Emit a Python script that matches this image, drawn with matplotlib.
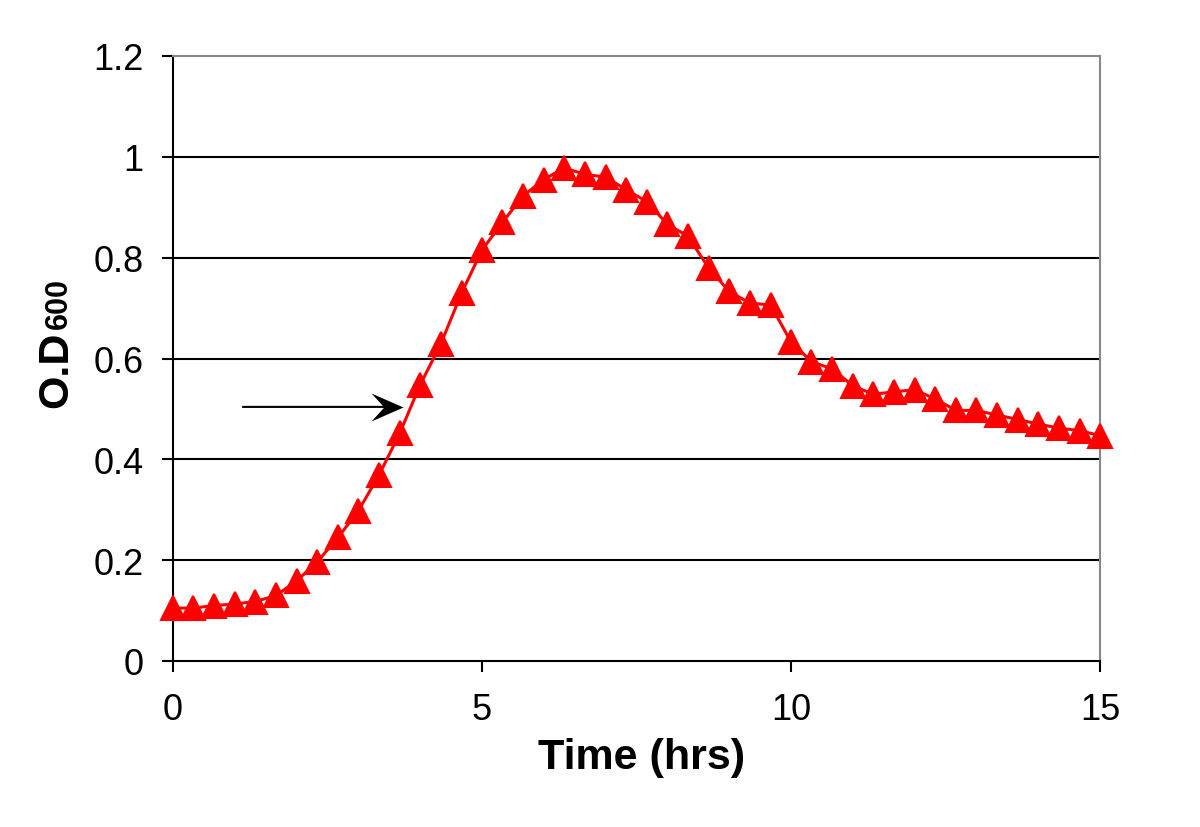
import matplotlib
matplotlib.use("Agg")
import matplotlib.pyplot as plt
from matplotlib.ticker import FuncFormatter
from matplotlib.path import Path

plt.rcParams['font.family'] = ['Liberation Sans', 'DejaVu Sans']

time_hrs = [0.00, 0.33, 0.67, 1.00, 1.33, 1.67, 2.00, 2.33, 2.67, 3.00,
            3.33, 3.67, 4.00, 4.33, 4.67, 5.00, 5.33, 5.67, 6.00, 6.33,
            6.67, 7.00, 7.33, 7.67, 8.00, 8.33, 8.67, 9.00, 9.33, 9.67,
            10.00, 10.33, 10.67, 11.00, 11.33, 11.67, 12.00, 12.33, 12.67, 13.00,
            13.33, 13.67, 14.00, 14.33, 14.67, 15.00]
od600 = [0.105, 0.105, 0.110, 0.113, 0.118, 0.130, 0.159, 0.196, 0.245, 0.298,
         0.368, 0.452, 0.548, 0.628, 0.730, 0.815, 0.870, 0.923, 0.955, 0.978,
         0.965, 0.960, 0.935, 0.911, 0.866, 0.843, 0.779, 0.733, 0.710, 0.706,
         0.633, 0.594, 0.579, 0.546, 0.529, 0.534, 0.538, 0.520, 0.497, 0.497,
         0.488, 0.479, 0.470, 0.462, 0.457, 0.447]

x_ticks = [0, 5, 10, 15]
y_ticks = [0, 0.2, 0.4, 0.6, 0.8, 1.0, 1.2]

arrow_start = (1.13, 0.504)
arrow_end = (3.72, 0.504)

fig = plt.figure(figsize=(12, 8.28), dpi=100)
ax = fig.add_axes([173/1200, 1-662/828, (1100-173)/1200, (662-57)/828])

ax.set_xlim(0, 15)
ax.set_ylim(0, 1.2)
ax.set_xticks(x_ticks)
ax.set_yticks(y_ticks)
ax.yaxis.set_major_formatter(FuncFormatter(lambda v, p: '%g' % round(v, 2)))

for y in y_ticks[1:-1]:
    ax.axhline(y, color='black', lw=1.5, zorder=1)

ax.plot(time_hrs, od600, color='#FF0000', lw=2.2, marker='^', markersize=17,
        markerfacecolor='#FF0000', markeredgecolor='#FF0000', markeredgewidth=1.5,
        clip_on=False, zorder=3)

# arrow: shaft + stealth-style head
ax.annotate('', xy=(arrow_end[0] - 0.3, arrow_end[1]), xytext=arrow_start,
            arrowprops=dict(arrowstyle='-', color='black', lw=1.5,
                            shrinkA=0, shrinkB=0), zorder=4)
head = Path([(0, 0), (-2, 0.875), (-1.2, 0), (-2, -0.875), (0, 0)],
            [Path.MOVETO, Path.LINETO, Path.LINETO, Path.LINETO, Path.CLOSEPOLY])
ax.plot([arrow_end[0]], [arrow_end[1]], marker=head, markersize=46,
        color='black', markeredgewidth=0, zorder=5)

for s in ['left', 'bottom']:
    ax.spines[s].set_color('black')
    ax.spines[s].set_linewidth(1.5)
for s in ['top', 'right']:
    ax.spines[s].set_color('#888888')
    ax.spines[s].set_linewidth(1.5)

ax.tick_params(axis='both', direction='out', length=8, width=1.5, labelsize=26,
               colors='black')
ax.tick_params(axis='y', pad=13)
ax.tick_params(axis='x', pad=14)

ax.set_xlabel('Time (hrs)', fontsize=31, fontweight='bold')
ax.xaxis.set_label_coords(0.506, -0.125)

fig.text(67/1200, 1-408/828, 'O.D', rotation=90, rotation_mode='anchor',
         ha='left', va='baseline', fontsize=31, fontweight='bold')
fig.text(67/1200, 1-329/828, '600', rotation=90, rotation_mode='anchor',
         ha='left', va='baseline', fontsize=22, fontweight='bold')

fig.savefig('out.png', dpi=100)
